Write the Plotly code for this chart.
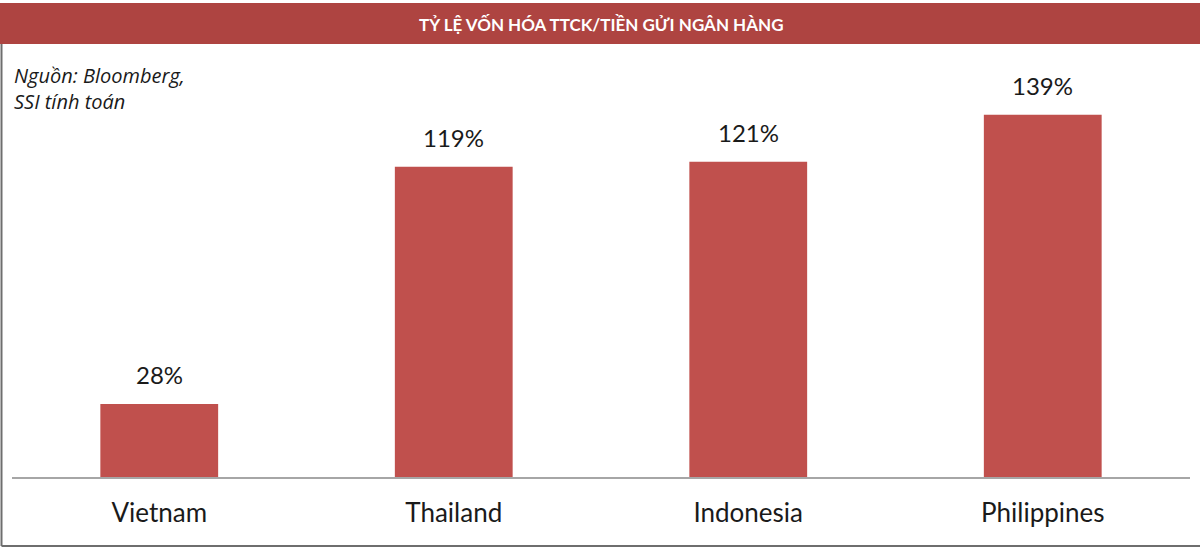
import plotly.graph_objects as go

categories = ["Vietnam", "Thailand", "Indonesia", "Philippines"]
values = [28, 119, 121, 139]
value_labels = ["28%", "119%", "121%", "139%"]
title_text = "TỶ LỆ VỐN HÓA TTCK/TIỀN GỬI NGÂN HÀNG"
source_text = "Nguồn: Bloomberg,<br>SSI tính toán"

BAR = "#C0504D"
BAND = "#AE4441"

fig = go.Figure()
fig.add_trace(go.Bar(x=categories, y=values, marker=dict(color=BAR, line=dict(width=0)),
                     hoverinfo="skip"))

for c, v, t in zip(categories, values, value_labels):
    fig.add_annotation(x=c, y=v, text=t, showarrow=False, xref="x", yref="y",
                       yanchor="bottom", yshift=13,
                       font=dict(family="Lato, Open Sans, sans-serif", size=24, color="#1a1a1a"))

fig.update_layout(
    width=1200, height=549,
    margin=dict(l=12, r=10, t=60, b=72, pad=0),
    paper_bgcolor="white", plot_bgcolor="white",
    showlegend=False,
    bargap=0.6,
    xaxis=dict(showline=True, linecolor="#A6A6A6", linewidth=1.5, ticks="",
               ticklabelstandoff=12,
               tickfont=dict(family="Lato, Open Sans, sans-serif", size=26, color="#1a1a1a"),
               showgrid=False, zeroline=False, fixedrange=True),
    yaxis=dict(range=[0, 160], visible=False, showgrid=False, zeroline=False, fixedrange=True),
    shapes=[
        dict(type="rect", xref="paper", yref="paper", x0=-0.02, x1=1.02,
             y0=1 + (60 - 44) / 417, y1=1 + (60 - 3) / 417,
             fillcolor=BAND, line=dict(width=0), layer="below"),
        dict(type="line", xref="paper", yref="paper", x0=(1.5 - 12) / 1178, x1=(1.5 - 12) / 1178,
             y0=-(545.5 - 476.5) / 417, y1=1 + (60 - 44) / 417,
             line=dict(color="#6E6E6E", width=2)),
        dict(type="line", xref="paper", yref="paper", x0=(1.5 - 12) / 1178, x1=1 + 10 / 1178,
             y0=-(545.5 - 476.5) / 417, y1=-(545.5 - 476.5) / 417,
             line=dict(color="#6E6E6E", width=2)),
    ],
)

fig.add_annotation(text="<b>" + title_text + "</b>", xref="paper", yref="paper",
                   x=(601 - 12) / 1178, y=1 + (60 - 24) / 417, showarrow=False,
                   xanchor="center", yanchor="middle",
                   font=dict(family="Lato, sans-serif", size=17, color="white"))
fig.add_annotation(text="<i>" + source_text + "</i>", xref="paper", yref="paper",
                   x=0, y=1 + (60 - 60) / 417, showarrow=False,
                   xanchor="left", yanchor="top", align="left",
                   font=dict(family="Open Sans, sans-serif", size=20, color="#1a1a1a"))

fig.write_html("out.html", config={"displayModeBar": False},
               post_script="document.body.style.margin='0';document.body.style.padding='0';")
